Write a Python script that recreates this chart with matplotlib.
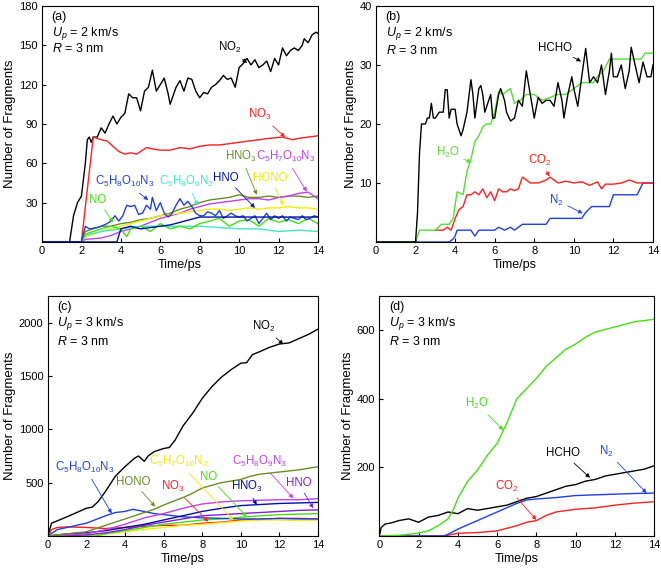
import matplotlib
matplotlib.use("Agg")
import matplotlib.pyplot as plt

plt.rcParams['font.family'] = ['Liberation Sans', 'DejaVu Sans']
plt.rcParams['mathtext.fontset'] = 'custom'
plt.rcParams['mathtext.rm'] = 'Liberation Sans'
plt.rcParams['mathtext.it'] = 'Liberation Sans:italic'
plt.rcParams['mathtext.default'] = 'regular'

# ---------------- panel (a): Up = 2 km/s, nitrogen species ----------------
a_no2 = [(0, 0), (1.4, 0), (1.6, 20), (1.8, 30), (2.0, 35), (2.2, 60), (2.3, 78), (2.4, 80),
         (2.5, 76), (2.6, 80), (2.8, 80), (3.0, 87), (3.2, 83), (3.4, 90), (3.6, 96), (3.8, 90),
         (4.0, 95), (4.2, 98), (4.4, 113), (4.6, 110), (4.8, 110), (5.0, 100), (5.2, 115),
         (5.4, 118), (5.6, 131), (5.8, 115), (6.0, 120), (6.2, 125), (6.4, 113), (6.5, 105),
         (6.8, 118), (7.0, 123), (7.2, 115), (7.4, 125), (7.6, 124), (7.8, 115), (8.0, 110),
         (8.2, 114), (8.4, 113), (8.6, 118), (8.8, 120), (9.0, 123), (9.2, 127), (9.4, 124),
         (9.6, 125), (9.8, 118), (10.0, 133), (10.2, 136), (10.4, 140), (10.6, 135), (10.8, 139),
         (11.0, 133), (11.2, 135), (11.4, 138), (11.6, 130), (11.8, 140), (12.0, 135), (12.2, 148),
         (12.4, 142), (12.6, 146), (12.8, 148), (13.0, 146), (13.2, 150), (13.3, 155), (13.5, 152),
         (13.7, 158), (13.9, 160), (14.0, 159)]
a_no3 = [(0, 0), (2.0, 0), (2.6, 80), (3.0, 78), (3.3, 77), (3.6, 73), (3.9, 69), (4.2, 67),
         (4.5, 68), (4.8, 67), (5.0, 69), (5.3, 72), (5.6, 71), (6.0, 70), (6.5, 70), (7.0, 72),
         (7.5, 71), (8.0, 73), (8.5, 74), (9.0, 74), (9.5, 75), (10.0, 76), (10.5, 77), (11.0, 78),
         (11.5, 79), (12.2, 80), (12.7, 78), (13.0, 79), (13.5, 80), (14.0, 81)]
a_c5h8o10n3 = [(0, 0), (2.0, 0), (2.2, 12), (2.4, 10), (2.8, 11), (3.0, 12), (3.3, 14), (3.5, 16),
               (3.7, 20), (3.9, 16), (4.1, 20), (4.3, 28), (4.5, 27), (4.7, 28), (4.9, 21), (5.1, 22),
               (5.3, 28), (5.5, 25), (5.6, 34), (5.8, 24), (6.0, 30), (6.2, 22), (6.4, 19), (6.6, 22),
               (6.8, 28), (7.0, 33), (7.2, 28), (7.4, 31), (7.6, 27), (7.8, 22), (8.0, 20), (8.2, 20),
               (8.4, 23), (8.6, 22), (8.8, 20), (9.0, 24), (9.2, 18), (9.4, 20), (9.6, 22), (9.8, 20),
               (10.0, 19), (10.2, 20), (10.4, 16), (10.6, 18), (10.8, 20), (11.0, 14), (11.2, 18),
               (11.4, 22), (11.6, 17), (11.8, 20), (12.0, 18), (12.2, 20), (12.4, 16), (12.6, 19),
               (12.8, 18), (13.0, 17), (13.2, 20), (13.4, 17), (13.6, 18), (13.8, 20), (14.0, 19)]
a_hno = [(0, 0), (3.8, 0), (4.0, 10), (4.5, 12), (5.0, 10), (5.5, 11), (6.0, 12), (6.5, 13),
         (7.0, 15), (7.5, 17), (8.0, 19), (8.5, 19), (9.0, 19), (10.0, 19), (11.0, 19), (12.0, 19),
         (13.0, 19), (14.0, 19)]
a_hono = [(0, 0), (2.0, 0), (2.2, 4), (2.6, 6), (3.0, 8), (3.5, 10), (4.0, 12), (4.5, 14), (5.0, 16),
          (5.5, 18), (6.0, 20), (6.5, 21), (7.0, 22), (7.5, 23), (8.0, 24), (8.5, 25), (9.0, 25),
          (9.5, 24), (10.0, 25), (10.5, 26), (11.0, 25), (11.5, 26), (12.0, 26), (12.5, 27),
          (13.0, 26), (13.5, 26), (14.0, 25)]
a_hno3 = [(0, 0), (2.0, 0), (2.2, 8), (2.6, 10), (3.0, 12), (3.5, 12), (4.0, 14), (4.5, 15),
          (5.0, 17), (5.5, 18), (6.0, 20), (6.5, 22), (7.0, 25), (7.5, 27), (8.0, 30), (8.5, 32),
          (9.0, 33), (9.5, 34), (10.0, 36), (10.5, 34), (11.0, 34), (11.5, 35), (12.0, 34),
          (12.5, 35), (13.0, 35), (13.5, 34), (14.0, 35)]
a_c5h7o10n3 = [(0, 0), (2.0, 0), (2.2, 2), (3.0, 3), (3.5, 5), (4.0, 8), (4.5, 10), (5.0, 12),
               (5.5, 15), (6.0, 18), (6.5, 20), (7.0, 22), (7.5, 25), (8.0, 27), (8.5, 29), (9.0, 30),
               (9.5, 31), (10.0, 32), (10.5, 33), (11.0, 33), (11.5, 32), (12.0, 34), (12.5, 35),
               (13.0, 37), (13.5, 38), (13.8, 35), (14.0, 33)]
a_no = [(0, 0), (2.0, 0), (2.2, 6), (2.6, 8), (3.0, 10), (3.5, 12), (4.0, 10), (4.3, 4), (4.5, 10),
        (5.0, 12), (5.5, 8), (6.0, 14), (6.5, 10), (7.0, 12), (7.5, 10), (8.0, 14), (8.5, 16),
        (9.0, 18), (9.5, 12), (10.0, 16), (10.5, 17), (11.0, 12), (11.5, 18), (12.0, 15),
        (12.5, 17), (13.0, 14), (13.5, 18), (14.0, 14)]
a_c5h8o6n2 = [(0, 0), (2.0, 0), (2.2, 5), (3.0, 8), (3.5, 9), (4.0, 10), (4.5, 11), (5.0, 12),
              (6.0, 12), (7.0, 12), (8.0, 12), (9.0, 11), (10.0, 10), (11.0, 10), (11.5, 9),
              (12.0, 8), (13.0, 9), (14.0, 8)]

# ---------------- panel (b): Up = 2 km/s, small products ----------------
b_hcho = [(0, 0), (2.0, 0), (2.1, 5), (2.2, 15), (2.3, 20), (2.5, 20), (2.6, 21), (2.7, 21),
          (2.8, 23.5), (2.9, 21), (3.0, 21), (3.2, 22), (3.4, 22), (3.5, 25.8), (3.6, 25.8),
          (3.7, 21), (3.8, 22.5), (4.0, 22.5), (4.1, 20), (4.3, 18), (4.4, 19), (4.6, 22),
          (4.8, 27.5), (4.9, 25), (5.0, 21), (5.2, 26), (5.3, 26.5), (5.4, 25), (5.5, 22),
          (5.6, 23), (5.8, 25), (5.9, 21), (6.0, 21), (6.2, 25), (6.3, 26), (6.5, 24), (6.6, 22),
          (6.8, 20.5), (7.0, 21), (7.2, 24), (7.4, 23), (7.6, 29), (7.8, 25), (8.0, 21),
          (8.2, 24.5), (8.4, 23.5), (8.6, 24), (8.8, 24), (9.0, 23), (9.2, 27), (9.4, 24),
          (9.5, 21), (9.7, 25), (9.9, 28), (10.0, 26), (10.2, 23), (10.4, 28), (10.6, 32.8),
          (10.8, 27), (11.0, 28), (11.2, 27), (11.4, 30), (11.6, 25), (11.8, 29), (11.9, 32),
          (12.0, 28), (12.2, 28), (12.4, 30), (12.6, 26), (12.8, 29), (12.9, 33), (13.1, 30),
          (13.3, 27), (13.5, 30.5), (13.7, 28), (13.9, 28), (14.0, 30)]
b_h2o = [(0, 0), (2.0, 0), (2.2, 2), (3.0, 2), (3.3, 3), (3.7, 3), (3.9, 4), (4.1, 8.5), (4.4, 8),
         (4.6, 12), (4.8, 14), (5.0, 17), (5.2, 18), (5.4, 19.5), (5.6, 20), (5.8, 20), (6.0, 22),
         (6.2, 25.5), (6.4, 25), (6.6, 25.5), (6.8, 26), (7.0, 23.5), (7.3, 24), (7.6, 25),
         (8.0, 25), (8.4, 24), (8.8, 24.5), (9.2, 25), (9.6, 25), (10.0, 26), (10.4, 27),
         (11.0, 27), (11.2, 28), (11.5, 29), (11.8, 31), (12.5, 31), (13.4, 31), (13.6, 32),
         (14.0, 32)]
b_co2 = [(3.0, 2), (3.4, 2), (3.6, 2.5), (3.8, 2), (4.0, 4), (4.2, 5.5), (4.4, 6), (4.6, 8),
         (4.8, 8), (5.0, 8.5), (5.2, 8), (5.4, 9), (5.6, 7.5), (5.8, 8.5), (6.0, 7), (6.2, 9),
         (6.4, 8.5), (6.6, 8.5), (6.8, 9), (7.0, 8.7), (7.2, 9), (7.4, 11), (7.6, 10.5), (7.8, 10),
         (8.2, 10), (8.6, 10.5), (8.8, 11), (9.0, 10.5), (9.2, 10), (9.6, 10.3), (10.0, 10),
         (10.4, 10.2), (10.8, 9.6), (11.2, 10.2), (11.4, 9), (11.6, 9.8), (12.0, 9.8),
         (12.4, 10), (12.8, 10.5), (13.2, 10), (14.0, 10)]
b_n2 = [(0, 0), (3.7, 0), (3.9, 0.5), (4.0, 1), (4.1, 2), (4.8, 2), (5.0, 1), (5.2, 2), (6.0, 2),
        (6.2, 2.5), (6.5, 2), (6.8, 2.5), (7.0, 2), (7.4, 3), (8.6, 3), (8.8, 4), (10.4, 4),
        (10.6, 5), (10.9, 6), (11.8, 6), (12.0, 8), (13.2, 8), (13.5, 10), (14.0, 10)]

# ---------------- panel (c): Up = 3 km/s, nitrogen species ----------------
c_no2 = [(0, 0), (0.2, 120), (0.6, 150), (1.0, 180), (1.5, 220), (2.0, 260), (2.3, 270),
         (2.6, 320), (3.0, 420), (3.5, 560), (4.0, 650), (4.5, 730), (4.7, 750), (5.0, 700),
         (5.2, 750), (5.5, 790), (6.0, 820), (6.3, 830), (6.6, 900), (7.0, 1030), (7.5, 1150),
         (8.0, 1290), (8.5, 1400), (9.0, 1490), (9.5, 1560), (10.0, 1620), (10.3, 1625),
         (10.6, 1700), (11.0, 1730), (11.5, 1770), (12.0, 1800), (12.5, 1810), (13.0, 1850),
         (13.5, 1890), (14.0, 1940)]
c_hono = [(0, 0), (1.0, 20), (2.0, 40), (3.0, 100), (4.0, 160), (5.0, 220), (5.5, 250), (6.0, 290),
          (7.0, 360), (7.5, 400), (8.0, 450), (9.0, 500), (10.0, 530), (10.5, 560), (11.0, 580),
          (12.0, 600), (13.0, 620), (14.0, 650)]
c_c5h8o10n3 = [(0, 0), (0.5, 60), (1.0, 80), (2.0, 120), (3.0, 190), (3.5, 220), (4.0, 230),
               (4.4, 250), (5.0, 230), (5.5, 210), (6.0, 200), (7.0, 180), (8.0, 170), (9.0, 165),
               (10.0, 160), (11.0, 160), (12.0, 165), (13.0, 160), (14.0, 160)]
c_no3 = [(0, 0), (0.2, 60), (0.5, 80), (1.0, 85), (2.0, 80), (3.0, 70), (4.0, 80), (5.0, 90),
         (6.0, 100), (7.0, 100), (8.0, 120), (9.0, 130), (10.0, 150), (11.0, 155), (12.0, 165),
         (13.0, 165), (14.0, 160)]
c_c5h7o10n2 = [(0, 0), (2.0, 0), (3.0, 20), (4.0, 40), (5.0, 60), (6.0, 80), (7.0, 100), (8.0, 110),
               (9.0, 125), (10.0, 140), (11.0, 150), (12.0, 150), (13.0, 145), (14.0, 150)]
c_no = [(0, 0), (2.5, 0), (3.0, 20), (4.0, 50), (5.0, 80), (6.0, 110), (7.0, 130), (8.0, 150),
        (9.0, 160), (10.0, 175), (11.0, 190), (12.0, 200), (13.0, 205), (14.0, 210)]
c_hno3 = [(0, 0), (1.0, 20), (2.0, 30), (3.0, 50), (4.0, 80), (5.0, 110), (6.0, 150), (7.0, 190),
          (8.0, 230), (9.0, 260), (10.0, 285), (11.0, 295), (12.0, 305), (13.0, 310), (14.0, 315)]
c_c5h8o9n3 = [(0, 0), (2.0, 20), (3.0, 60), (4.0, 110), (5.0, 170), (6.0, 210), (7.0, 260),
              (8.0, 300), (9.0, 320), (10.0, 330), (11.0, 335), (12.0, 340), (13.0, 340), (14.0, 350)]
c_hno = [(0, 0), (2.0, 10), (3.0, 30), (4.0, 60), (5.0, 100), (6.0, 130), (7.0, 160), (8.0, 190),
         (9.0, 200), (10.0, 210), (11.0, 220), (12.0, 230), (13.0, 240), (14.0, 245)]

# ---------------- panel (d): Up = 3 km/s, small products ----------------
d_h2o = [(0, 0), (1.0, 2), (2.0, 8), (2.5, 15), (3.0, 30), (3.5, 50), (3.8, 80), (4.0, 110),
         (4.5, 160), (5.0, 192), (5.5, 235), (6.0, 270), (6.5, 330), (7.0, 400), (7.5, 430),
         (8.0, 460), (8.5, 495), (9.0, 520), (9.5, 545), (10.0, 560), (10.5, 580), (11.0, 595),
         (12.0, 610), (13.0, 625), (14.0, 632)]
d_hcho = [(0, 0), (0.1, 25), (0.3, 35), (0.6, 38), (1.0, 45), (1.5, 50), (2.0, 40), (2.5, 55),
          (3.0, 60), (3.5, 70), (4.0, 65), (4.5, 80), (5.0, 75), (5.5, 80), (6.0, 85), (6.5, 90),
          (7.0, 100), (7.5, 110), (8.0, 115), (8.5, 125), (9.0, 135), (9.5, 145), (10.0, 150),
          (10.5, 160), (11.0, 165), (11.5, 175), (12.0, 180), (12.5, 185), (13.0, 190),
          (13.5, 195), (14.0, 205)]
d_n2 = [(0, 0), (3.3, 0), (3.5, 5), (4.0, 20), (5.0, 45), (6.0, 70), (7.0, 95), (7.5, 105),
        (8.0, 108), (9.0, 112), (10.0, 118), (11.0, 120), (12.0, 122), (13.0, 124), (14.0, 125)]
d_co2 = [(0, 0), (3.0, 0), (3.5, 2), (4.0, 8), (5.0, 10), (6.0, 15), (7.0, 30), (7.5, 40),
         (8.0, 45), (8.5, 60), (9.0, 70), (10.0, 78), (11.0, 82), (12.0, 90), (13.0, 96),
         (14.0, 100)]

BLACK = 'black'
RED = '#ff2020'
BLUE = '#2040e0'
NAVY = '#0010a8'
CYAN = '#40e8c8'
YELLOW = '#eeee00'
OLIVE = '#6b8e23'
VIOLET = '#c040f0'
PURPLE = '#8020d0'
GREEN = '#44e010'


def draw(ax, series, ylim, yticks, tag, up, ytext):
    # series: list of (data, color, label, text_xy, arrow_xy)
    for data, color, label, txy, axy in series:
        t = [p[0] for p in data]
        v = [p[1] for p in data]
        ax.plot(t, v, color=color, lw=1.0)
    for data, color, label, txy, axy in series:
        ax.annotate(label, xy=axy, xytext=txy, color=color, fontsize=8.3,
                    ha='center', va='center',
                    arrowprops=dict(arrowstyle='-|>', color=color, lw=0.6,
                                    mutation_scale=6, shrinkA=1, shrinkB=0))
    ax.set_xlim(0, 14)
    ax.set_ylim(*ylim)
    ax.set_xticks(range(0, 15, 2))
    ax.set_yticks(yticks)
    ax.tick_params(direction='in', length=3, labelsize=8, pad=3)
    ax.set_xlabel('Time/ps', fontsize=9, labelpad=2)
    ax.set_ylabel('Number of Fragments', fontsize=9.5, labelpad=2)
    for s in ax.spines.values():
        s.set_linewidth(0.8)
    ax.text(0.035, 0.955, tag, transform=ax.transAxes, fontsize=9, va='center')
    ax.text(0.035, 0.885, r'$\mathit{U}_{\mathit{p}}$ = %s km/s' % up,
            transform=ax.transAxes, fontsize=9, va='center')
    ax.text(0.035, ytext, r'$\mathit{R}$ = 3 nm', transform=ax.transAxes,
            fontsize=9, va='center')


fig = plt.figure(figsize=(6.61, 5.73), dpi=100)
ax_a = fig.add_axes([0.0635, 0.5777, 0.4176, 0.4119])
ax_b = fig.add_axes([0.5688, 0.5777, 0.4190, 0.4119])
ax_c = fig.add_axes([0.0722, 0.0646, 0.4090, 0.4188])
ax_d = fig.add_axes([0.5738, 0.0646, 0.4160, 0.4188])

draw(ax_a, [
    (a_no2, BLACK, r'NO$_2$', (9.5, 148), (10.4, 136.5)),
    (a_no3, RED, r'NO$_3$', (11.06, 97), (12.33, 80)),
    (a_hno3, OLIVE, r'HNO$_3$', (10.1, 65), (10.9, 36)),
    (a_c5h7o10n3, VIOLET, r'C$_5$H$_7$O$_{10}$N$_3$', (12.35, 65), (13.43, 38.4)),
    (a_hono, YELLOW, 'HONO', (11.6, 48.8), (12.24, 28)),
    (a_c5h8o6n2, CYAN, r'C$_5$H$_8$O$_6$N$_2$', (7.35, 45.8), (7.9, 28)),
    (a_no, GREEN, 'NO', (2.84, 32), (3.6, 15)),
    (a_c5h8o10n3, BLUE, r'C$_5$H$_8$O$_{10}$N$_3$', (4.2, 45.8), (5.39, 32)),
    (a_hno, NAVY, 'HNO', (9.34, 48.8), (10.8, 26)),
], (0, 180), [30, 60, 90, 120, 150, 180], '(a)', '2', 0.82)

draw(ax_b, [
    (b_n2, BLUE, r'N$_2$', (9.12, 7.1), (10.45, 4.86)),
    (b_co2, RED, r'CO$_2$', (8.27, 13.9), (8.77, 11.1)),
    (b_h2o, '#55e030', r'H$_2$O', (3.63, 15.1), (4.82, 13.5)),
    (b_hcho, BLACK, 'HCHO', (9.07, 32.9), (10.37, 30.6)),
], (0, 40), [10, 20, 30, 40], '(b)', '2', 0.81)

draw(ax_c, [
    (c_no3, RED, r'NO$_3$', (6.5, 462), (8.32, 134)),
    (c_c5h7o10n2, YELLOW, r'C$_5$H$_7$O$_{10}$N$_2$', (6.76, 696), (9.61, 150)),
    (c_no, GREEN, 'NO', (8.35, 556), (10.3, 181)),
    (c_c5h8o10n3, BLUE, r'C$_5$H$_8$O$_{10}$N$_3$', (1.93, 640), (3.31, 212)),
    (c_hno, PURPLE, 'HNO', (12.98, 494), (13.75, 260)),
    (c_hno3, NAVY, r'HNO$_3$', (10.3, 462), (10.82, 291)),
    (c_c5h8o9n3, VIOLET, r'C$_5$H$_8$O$_9$N$_3$', (10.99, 696), (12.72, 353)),
    (c_hono, OLIVE, 'HONO', (4.43, 509), (5.56, 275)),
    (c_no2, BLACK, r'NO$_2$', (11.17, 1962), (12.2, 1797)),
], (0, 2250), [500, 1000, 1500, 2000], '(c)', '3', 0.81)

draw(ax_d, [
    (d_co2, RED, r'CO$_2$', (6.49, 144), (8.0, 47)),
    (d_n2, BLUE, r'N$_2$', (11.58, 248), (13.61, 125)),
    (d_hcho, BLACK, 'HCHO', (9.37, 241), (10.73, 170)),
    (d_h2o, GREEN, r'H$_2$O', (4.96, 387), (6.31, 309)),
], (0, 700), [200, 400, 600], '(d)', '3', 0.81)

fig.savefig('out.png', dpi=100)
